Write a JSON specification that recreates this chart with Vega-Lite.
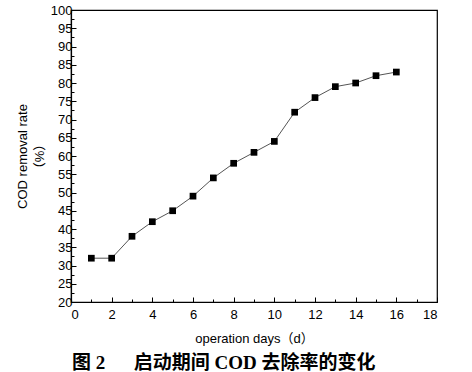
{
  "$schema": "https://vega.github.io/schema/vega-lite/v6.json",
  "width": 366,
  "height": 292,
  "autosize": {"type": "none"},
  "padding": {"left": 71, "top": 10, "right": 35, "bottom": 70},
  "background": "white",
  "config": {
    "view": {"stroke": "#000", "strokeWidth": 1.2},
    "font": "Liberation Sans"
  },
  "title": {
    "text": "图 2\u2003\u2002启动期间 COD 去除率的变化",
    "orient": "bottom",
    "anchor": "start",
    "frame": "group",
    "dx": 1,
    "offset": 9,
    "font": "Liberation Serif, Noto Sans CJK SC",
    "fontSize": 19,
    "fontWeight": "bold",
    "color": "#000"
  },
  "data": {
    "values": [
      {"day": 1, "rate": 32},
      {"day": 2, "rate": 32},
      {"day": 3, "rate": 38},
      {"day": 4, "rate": 42},
      {"day": 5, "rate": 45},
      {"day": 6, "rate": 49},
      {"day": 7, "rate": 54},
      {"day": 8, "rate": 58},
      {"day": 9, "rate": 61},
      {"day": 10, "rate": 64},
      {"day": 11, "rate": 72},
      {"day": 12, "rate": 76},
      {"day": 13, "rate": 79},
      {"day": 14, "rate": 80},
      {"day": 15, "rate": 82},
      {"day": 16, "rate": 83}
    ]
  },
  "encoding": {
    "x": {
      "field": "day",
      "type": "quantitative",
      "scale": {"domain": [0, 18], "nice": false},
      "axis": {
        "title": "operation days（d）",
        "values": [0, 1, 2, 3, 4, 5, 6, 7, 8, 9, 10, 11, 12, 13, 14, 15, 16, 17, 18],
        "labelExpr": "datum.value % 2 == 0 ? datum.label : ''",
        "grid": false,
        "domainColor": "#000",
        "domainWidth": 1.2,
        "tickColor": "#000",
        "tickSize": {"condition": {"test": "datum.value % 2 != 0", "value": -3}, "value": -5},
        "tickWidth": 1,
        "labelFont": "Liberation Sans",
        "labelFontSize": 13,
        "labelColor": "#000",
        "labelPadding": 11,
        "labelOverlap": false,
        "titleFont": "Liberation Sans, Noto Sans CJK SC",
        "titleFontSize": 13,
        "titleFontWeight": "normal",
        "titleColor": "#000",
        "titlePadding": 9
      }
    },
    "y": {
      "field": "rate",
      "type": "quantitative",
      "scale": {"domain": [20, 100], "nice": false},
      "axis": {
        "title": ["COD removal rate", "（%）"],
        "values": [20, 22.5, 25, 27.5, 30, 32.5, 35, 37.5, 40, 42.5, 45, 47.5, 50, 52.5, 55, 57.5, 60, 62.5, 65, 67.5, 70, 72.5, 75, 77.5, 80, 82.5, 85, 87.5, 90, 92.5, 95, 97.5, 100],
        "labelExpr": "datum.value % 5 == 0 ? datum.label : ''",
        "grid": false,
        "domainColor": "#000",
        "domainWidth": 1.2,
        "tickColor": "#000",
        "tickSize": {"condition": {"test": "datum.value % 5 != 0", "value": -3}, "value": -5},
        "tickWidth": 1,
        "labelFont": "Liberation Sans",
        "labelFontSize": 13,
        "labelColor": "#000",
        "labelPadding": 4,
        "labelOverlap": false,
        "titleFont": "Liberation Sans, Noto Sans CJK SC",
        "titleFontSize": 13,
        "titleFontWeight": "normal",
        "titleColor": "#000",
        "titlePadding": 4,
        "titleLineHeight": 17
      }
    }
  },
  "layer": [
    {"mark": {"type": "line", "color": "#555", "strokeWidth": 1}},
    {"mark": {"type": "point", "shape": "square", "filled": true, "color": "#000", "size": 45, "opacity": 1}}
  ]
}
